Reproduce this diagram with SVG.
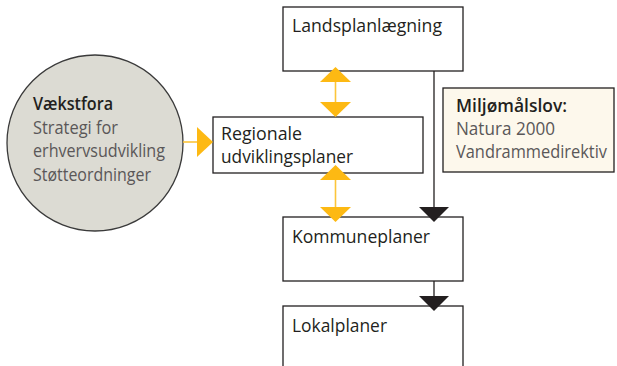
<svg xmlns="http://www.w3.org/2000/svg" width="617" height="366" viewBox="0 0 617 366">
<defs>
<style>
.box{fill:#fff;stroke:#231f20;stroke-width:1.3}
.t{font-family:"Open Sans","Noto Sans","Liberation Sans",sans-serif;font-size:17.5px;fill:#231f20}
.g{fill:#5a5758}
.b{font-weight:600}
.yl{stroke:#fcc53a;stroke-width:1.6;fill:none}
.yh{fill:#fdb913}
.bl{stroke:#231f20;stroke-width:1.3;fill:none}
.bh{fill:#231f20}
</style>
</defs>
<rect width="617" height="366" fill="#fff"/>
<g id="vaekstfora">
<circle cx="95" cy="143" r="88" fill="#dcdbd3" stroke="#3a3a3a" stroke-width="1.3"/>
<text class="t b" x="33" y="110" textLength="80" lengthAdjust="spacingAndGlyphs">Vækstfora</text>
<text class="t g" x="33" y="134" textLength="85" lengthAdjust="spacingAndGlyphs">Strategi for</text>
<text class="t g" x="33" y="157" textLength="132" lengthAdjust="spacingAndGlyphs">erhvervsudvikling</text>
<text class="t g" x="33" y="181" textLength="118" lengthAdjust="spacingAndGlyphs">Støtteordninger</text>
</g>
<g id="miljo">
<rect x="443" y="88" width="171" height="84" fill="#fdf8ec" stroke="#231f20" stroke-width="1.3"/>
<text class="t b" x="456" y="112" textLength="111" lengthAdjust="spacingAndGlyphs">Miljømålslov:</text>
<text class="t g" x="456" y="135" textLength="99" lengthAdjust="spacingAndGlyphs">Natura 2000</text>
<text class="t g" x="456" y="158" textLength="151" lengthAdjust="spacingAndGlyphs">Vandrammedirektiv</text>
</g>
<g id="landsplan">
<rect class="box" x="283" y="7" width="180" height="64"/>
<text class="t" x="292" y="32" textLength="150" lengthAdjust="spacingAndGlyphs">Landsplanlægning</text>
</g>
<g id="regionale">
<rect class="box" x="213" y="117" width="210" height="56"/>
<text class="t" x="221" y="140" textLength="81" lengthAdjust="spacingAndGlyphs">Regionale</text>
<text class="t" x="221" y="163" textLength="132" lengthAdjust="spacingAndGlyphs">udviklingsplaner</text>
</g>
<g id="kommune">
<rect class="box" x="283" y="217" width="180" height="64"/>
<text class="t" x="292" y="243" textLength="138" lengthAdjust="spacingAndGlyphs">Kommuneplaner</text>
</g>
<g id="lokal">
<rect class="box" x="283" y="306" width="180" height="70"/>
<text class="t" x="292" y="332" textLength="95" lengthAdjust="spacingAndGlyphs">Lokalplaner</text>
</g>
<g id="connectors">
<line class="yl" x1="335.5" y1="80" x2="335.5" y2="105"/>
<polygon class="yh" points="335.5,67 351,82 320,82"/>
<polygon class="yh" points="335.5,117 351,102 320,102"/>
<line class="yl" x1="335.5" y1="178" x2="335.5" y2="208"/>
<polygon class="yh" points="335.5,165 351,180 320,180"/>
<polygon class="yh" points="335.5,222 351,207 320,207"/>
<line class="yl" x1="183" y1="142" x2="199" y2="142"/>
<polygon class="yh" points="213,142 197,127 197,157"/>
<line class="bl" x1="434" y1="71" x2="434" y2="210"/>
<polygon class="bh" points="434,222 419,207 449,207"/>
<line class="bl" x1="434" y1="281" x2="434" y2="298"/>
<polygon class="bh" points="434,311 419,296 449,296"/>
</g>
</svg>
